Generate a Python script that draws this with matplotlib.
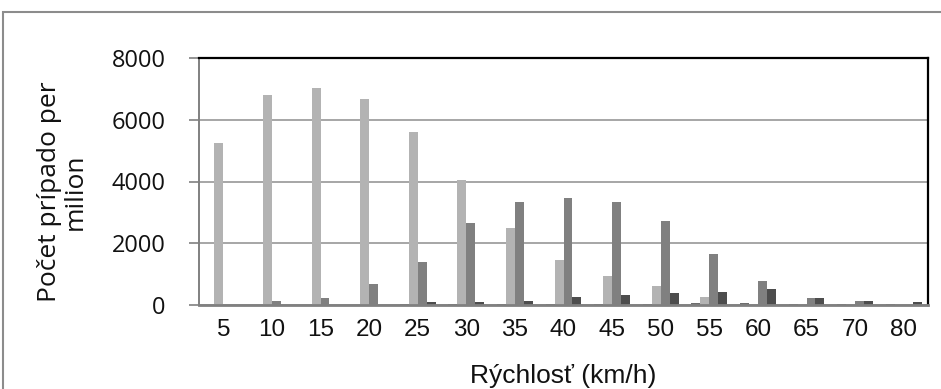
import matplotlib
matplotlib.use("Agg")
import matplotlib.pyplot as plt
import numpy as np
from matplotlib.patches import Rectangle

categories = ['5', '10', '15', '20', '25', '30', '35', '40', '45', '50', '55', '60', '65', '70', '80']
series_a = [0, 0, 0, 0, 20, 25, 25, 25, 25, 25, 50, 50, 40, 40, 40]
series_b = [5250, 6800, 7020, 6660, 5600, 4050, 2500, 1450, 950, 615, 270, 0, 0, 0, 0]
series_c = [0, 130, 240, 670, 1400, 2650, 3340, 3450, 3350, 2730, 1640, 780, 230, 130, 0]
series_d = [0, 0, 0, 0, 90, 110, 140, 250, 335, 380, 410, 520, 230, 120, 100]
yticks = [0, 2000, 4000, 6000, 8000]

W, H = 941, 389
fig = plt.figure(figsize=(W / 100, H / 100), dpi=100)
ax = fig.add_axes([199 / W, 1 - 305 / H, (928 - 199) / W, (305 - 58) / H])

x = np.arange(len(categories))
w = 0.185
colors = ['#6e6e6e', '#b3b3b3', '#808080', '#4d4d4d']
for i, (vals, c) in enumerate(zip([series_a, series_b, series_c, series_d], colors)):
    ax.bar(x + (i - 1.5) * w, vals, width=w, color=c, zorder=3)

ax.set_xlim(-0.5, len(categories) - 0.5)
ax.set_ylim(0, 8000)
ax.set_yticks(yticks)
ax.set_yticklabels([str(v) for v in yticks], fontfamily='Open Sans', fontsize=17, color='#111111')
ax.set_xticks(x)
ax.set_xticklabels(categories, fontfamily='Liberation Sans', fontsize=17.5, color='#111111')
ax.tick_params(axis='x', length=0, pad=10)
ax.tick_params(axis='y', length=7, width=1.2, color='#808080', pad=17)
ax.grid(axis='y', color='#a6a6a6', linewidth=1.4, zorder=0)
for s in ['top', 'right']:
    ax.spines[s].set_color('#000000')
    ax.spines[s].set_linewidth(1.6)
ax.spines['left'].set_color('#808080')
ax.spines['left'].set_linewidth(1.4)
ax.spines['bottom'].set_color('#808080')
ax.spines['bottom'].set_linewidth(2.0)
ax.spines['bottom'].set_zorder(4)

ax.set_xlabel('Rýchlosť (km/h)', fontfamily='Liberation Sans', fontsize=19, color='#111111', labelpad=17)
fig.text(62 / W, 1 - 192 / H, 'Počet prípado per\nmilion', rotation=90, ha='center', va='center',
         multialignment='center', fontfamily='Open Sans', fontsize=19, color='#111111', linespacing=1.05)

fig.patches.append(Rectangle((3 / W, -0.05), 1.1, 1 - 12 / H + 0.05, transform=fig.transFigure,
                             fill=False, edgecolor='#8c8c8c', linewidth=1.5))

fig.savefig('out.png', dpi=100, facecolor='white')
